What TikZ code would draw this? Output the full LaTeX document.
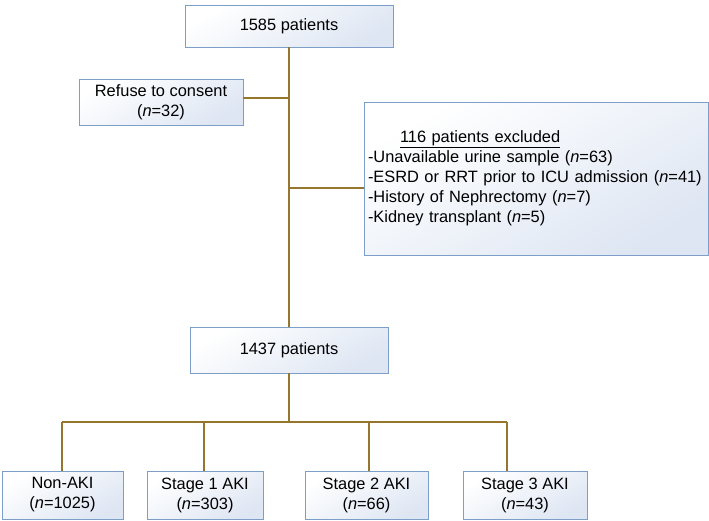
\documentclass[tikz,border=0pt]{standalone}
\usepackage{fontspec}
\setmainfont{Liberation Sans}
\usetikzlibrary{calc}
\definecolor{linecol}{RGB}{150,118,45}
\definecolor{boxborder}{RGB}{125,158,200}
\definecolor{boxfill}{RGB}{222,230,243}
\begin{document}
\begin{tikzpicture}[x=1pt,y=-1pt,
  box/.style={draw=boxborder, line width=0.9pt, top color=white, bottom color=boxfill, shading angle=30,
    inner sep=0pt, align=center, font=\fontsize{16.4}{20}\selectfont},
  conn/.style={draw=linecol, line width=1.2pt}]
\useasboundingbox (0,0) rectangle (709,520);
\node[box, minimum width=208pt, minimum height=42pt] (top) at (289,26) {1585 patients};
\node[box, minimum width=164pt, minimum height=46pt] (refuse) at (161,102) {Refuse to consent\\(\textit{n}=32)};
\node[box, minimum width=344pt, minimum height=153pt, text width=336pt, align=left, inner xsep=4pt] (excl) at (536,178.5)
  {\hspace*{32pt}\underline{116 patients excluded}\\
   -Unavailable urine sample (\textit{n}=63)\\
   -ESRD or RRT prior to ICU admission (\textit{n}=41)\\
   -History of Nephrectomy (\textit{n}=7)\\
   -Kidney transplant (\textit{n}=5)};
\node[box, minimum width=198pt, minimum height=46pt] (mid) at (289,350) {1437 patients};
\node[box, minimum width=121pt, minimum height=48pt] (b1) at (62.5,495) {Non-AKI\\(\textit{n}=1025)};
\node[box, minimum width=116pt, minimum height=48pt] (b2) at (205,495) {Stage 1 AKI\\(\textit{n}=303)};
\node[box, minimum width=123pt, minimum height=48pt] (b3) at (366.5,495) {Stage 2 AKI\\(\textit{n}=66)};
\node[box, minimum width=124pt, minimum height=48pt] (b4) at (525,495) {Stage 3 AKI\\(\textit{n}=43)};
% connectors
\draw[conn] (top.south) -- (mid.north);
\coordinate (r) at ($(refuse.east)+(0,-4)$);
\draw[conn] (r) -- (r -| top.south);
\coordinate (e) at ($(excl.west)+(0,9.5)$);
\draw[conn] (e) -- (e -| top.south);
\coordinate (split) at (289,422);
\coordinate (d1) at (62,422);
\coordinate (d2) at (204,422);
\coordinate (d3) at (369,422);
\coordinate (d4) at (507,422);
\draw[conn] (mid.south) -- (split);
\draw[conn] (d1) -- (d4);
\draw[conn] (d1) -- (d1 |- b1.north);
\draw[conn] (d2) -- (d2 |- b2.north);
\draw[conn] (d3) -- (d3 |- b3.north);
\draw[conn] (d4) -- (d4 |- b4.north);
\end{tikzpicture}
\end{document}
